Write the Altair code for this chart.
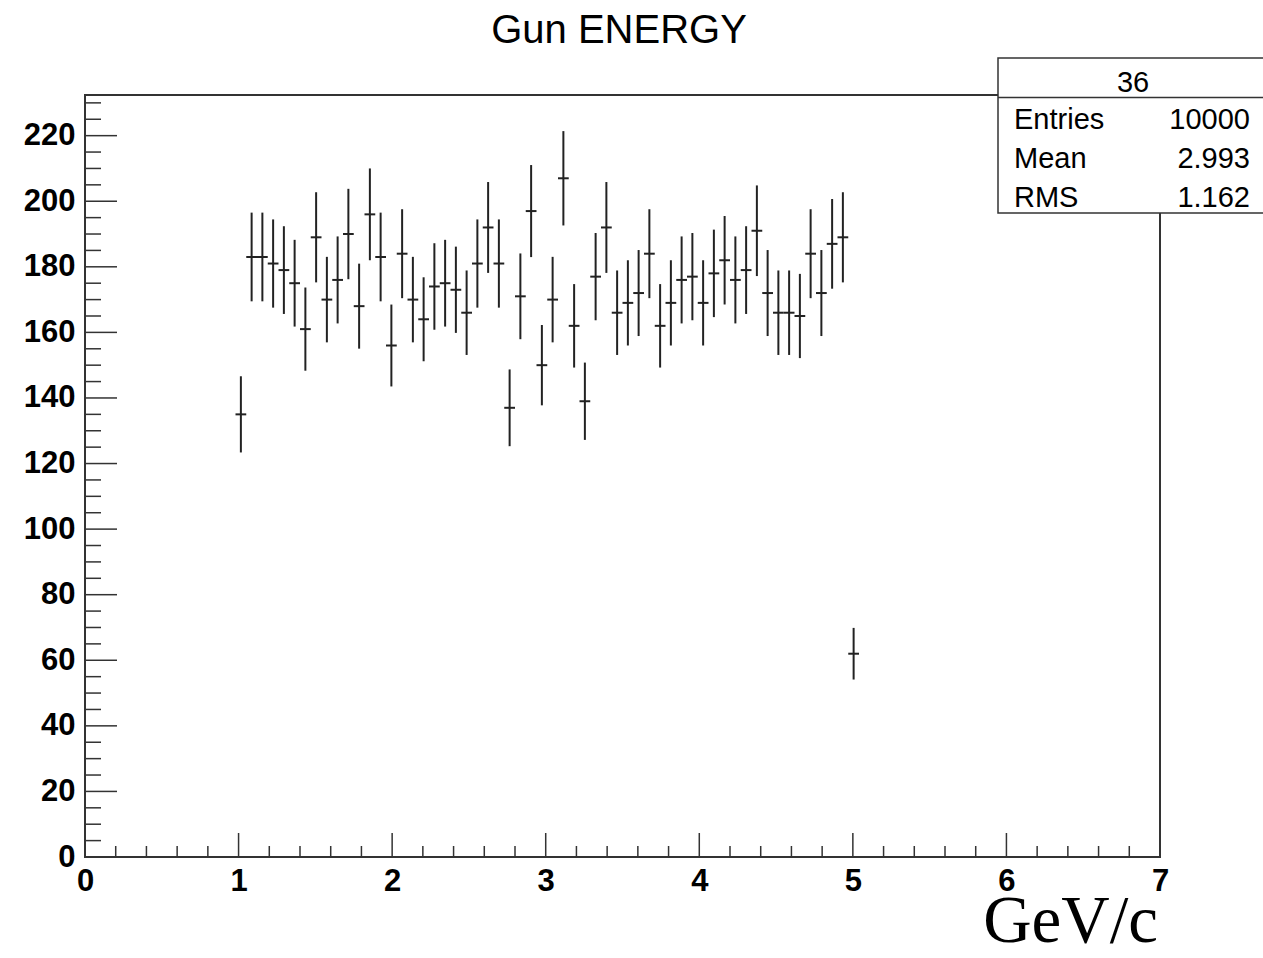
import altair as alt
import pandas as pd

# ---- data ----
counts = [135, 183, 183, 181, 179, 175, 161, 189, 170, 176,
          190, 168, 196, 183, 156, 184, 170, 164, 174, 175,
          173, 166, 181, 192, 181, 137, 171, 197, 150, 170,
          207, 162, 139, 177, 192, 166, 169, 172, 184, 162,
          169, 176, 177, 169, 178, 182, 176, 179, 191, 172,
          166, 166, 165, 184, 172, 187, 189, 62]
first_bin = 14            # histogram: 100 bins over 0..7
bin_width = 0.07
x_ticks = [0, 1, 2, 3, 4, 5, 6, 7]
y_ticks = [0, 20, 40, 60, 80, 100, 120, 140, 160, 180, 200, 220]
x_minor = [round(i * 0.2, 2) for i in range(36)]
y_minor = [i * 5 for i in range(47)]
title_text = "Gun ENERGY"
x_title = "GeV/c"
stats_name = "36"
stats_labels = ["Entries", "Mean", "RMS"]
stats_values = ["10000", "2.993", "1.162"]

W, H = 1075, 762
PL, PT = 85, 95

df = pd.DataFrame({
    "lo": [(first_bin + i) * bin_width for i in range(len(counts))],
    "count": counts,
})
df["hi"] = df["lo"] + bin_width
df["center"] = df["lo"] + bin_width / 2

xs = alt.Scale(domain=[0, 7], nice=False, zero=False)
ys = alt.Scale(domain=[0, 232.4], nice=False, zero=False)
LINE = "#222222"
FRAME = "#333333"
SANS = "Liberation Sans"

base = alt.Chart(df)

xaxis = alt.Axis(values=x_ticks, format="d", labelFont=SANS, labelFontWeight="bold", labelFontSize=31,
                 labelColor="black", labelPadding=9, ticks=False, domain=False, grid=False,
                 title=None, labelFlush=False)
yaxis = alt.Axis(values=y_ticks, format="d", labelFont=SANS, labelFontWeight="bold", labelFontSize=31,
                 labelColor="black", labelPadding=10, ticks=False, domain=False, grid=False,
                 title=None)

errs = base.transform_calculate(
    err="sqrt(datum.count)"
).transform_calculate(
    ylo="datum.count - datum.err", yhi="datum.count + datum.err"
).mark_rule(color=LINE, strokeWidth=2).encode(
    x=alt.X("center:Q", scale=xs, axis=xaxis),
    y=alt.Y("ylo:Q", scale=ys, axis=yaxis),
    y2="yhi:Q",
)
hbar = base.mark_rule(color=LINE, strokeWidth=2).encode(
    x=alt.X("lo:Q", scale=xs), x2="hi:Q", y=alt.Y("count:Q", scale=ys),
)

frame = alt.Chart(pd.DataFrame({"a": [0]})).mark_rect(
    fill="white", fillOpacity=0, stroke=FRAME, strokeWidth=2).encode(
    x=alt.value(0), x2=alt.value(W), y=alt.value(0), y2=alt.value(H))

ymaj = alt.Chart(pd.DataFrame({"v": y_ticks[1:]})).mark_rule(color=FRAME, strokeWidth=1.5).encode(
    y=alt.Y("v:Q", scale=ys), x=alt.value(0), x2=alt.value(32))
ymin = alt.Chart(pd.DataFrame({"v": [v for v in y_minor if v % 20 != 0]})).mark_rule(
    color=FRAME, strokeWidth=1.5).encode(
    y=alt.Y("v:Q", scale=ys), x=alt.value(0), x2=alt.value(16))
xmaj = alt.Chart(pd.DataFrame({"v": x_ticks[1:-1]})).mark_rule(color=FRAME, strokeWidth=1.5).encode(
    x=alt.X("v:Q", scale=xs), y=alt.value(H), y2=alt.value(H - 24))
xmin = alt.Chart(pd.DataFrame({"v": [v for v in x_minor if abs(v - round(v)) > 1e-6]})).mark_rule(
    color=FRAME, strokeWidth=1.5).encode(
    x=alt.X("v:Q", scale=xs), y=alt.value(H), y2=alt.value(H - 11))

title = alt.Chart(pd.DataFrame({"t": [title_text]})).mark_text(
    font=SANS, fontSize=40, align="center", baseline="alphabetic", color="black").encode(
    text="t:N", x=alt.value(534), y=alt.value(-52))

xt = alt.Chart(pd.DataFrame({"t": [x_title]})).mark_text(
    font="Liberation Serif", fontSize=67, align="right", baseline="alphabetic", color="black").encode(
    text="t:N", x=alt.value(1073), y=alt.value(847))

box = alt.Chart(pd.DataFrame({"a": [0]})).mark_rect(
    fill="white", stroke=FRAME, strokeWidth=1.5).encode(
    x=alt.value(913), x2=alt.value(1180), y=alt.value(-37), y2=alt.value(118))
sep = alt.Chart(pd.DataFrame({"a": [0]})).mark_rule(color=FRAME, strokeWidth=1.5).encode(
    x=alt.value(913), x2=alt.value(1180), y=alt.value(2.5))
sname = alt.Chart(pd.DataFrame({"t": [stats_name]})).mark_text(
    font=SANS, fontSize=29, align="center", baseline="alphabetic", color="black").encode(
    text="t:N", x=alt.value(1048), y=alt.value(-3))
sdf = pd.DataFrame({"lab": stats_labels, "val": stats_values, "row": [0, 1, 2]})
slab = alt.Chart(sdf).transform_calculate(py="34 + datum.row * 38.8").mark_text(
    font=SANS, fontSize=29, align="left", baseline="alphabetic", color="black").encode(
    text="lab:N", x=alt.value(929), y=alt.Y("py:Q", scale=None))
sval = alt.Chart(sdf).transform_calculate(py="34 + datum.row * 38.8").mark_text(
    font=SANS, fontSize=29, align="right", baseline="alphabetic", color="black").encode(
    text="val:N", x=alt.value(1165), y=alt.Y("py:Q", scale=None))

chart = alt.layer(frame, errs, hbar, ymaj, ymin, xmaj, xmin, title, xt, box, sep, sname, slab, sval).properties(
    width=W, height=H,
    autosize=alt.AutoSizeParams(type="none"),
    padding={"left": PL, "top": PT, "right": 1263 - PL - W, "bottom": 958 - PT - H},
).configure_view(stroke=None).configure(background="white")

chart.save("out.html", embed_options={"renderer": "svg", "actions": False})
